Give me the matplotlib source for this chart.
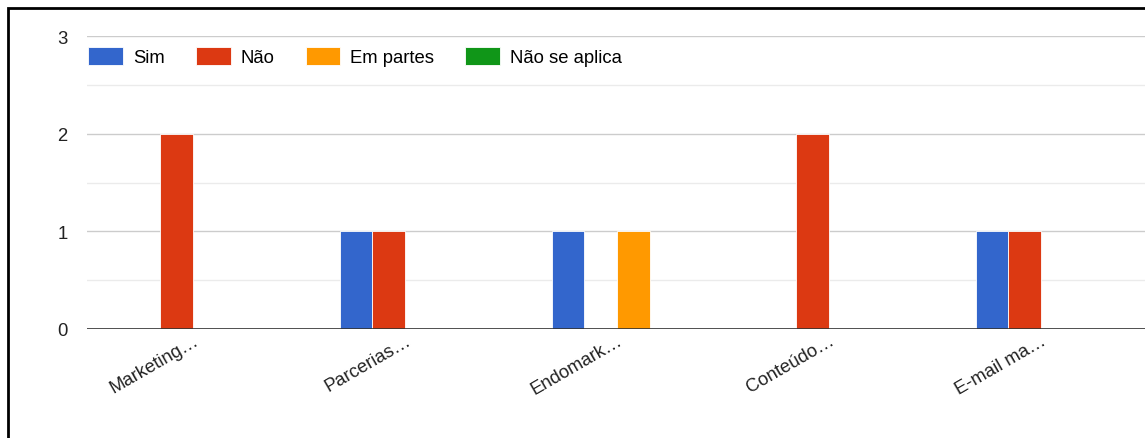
import matplotlib.pyplot as plt
from matplotlib.patches import Rectangle
import numpy as np

plt.rcParams['font.family'] = ['Liberation Sans', 'DejaVu Sans']

categories = ['Marketing…', 'Parcerias…', 'Endomark…', 'Conteúdo…', 'E-mail ma…']
series = ['Sim', 'Não', 'Em partes', 'Não se aplica']
colors = ['#3366cc', '#dc3912', '#ff9900', '#109618']
values = {
    'Sim':           [0, 1, 1, 0, 1],
    'Não':           [2, 1, 0, 2, 1],
    'Em partes':     [0, 0, 1, 0, 0],
    'Não se aplica': [0, 0, 0, 0, 0],
}

W, H = 1145, 439
fs = 13.3
fig = plt.figure(figsize=(W / 100, H / 100), dpi=100)
ax = fig.add_axes([87 / W, 109 / H, 1060 / W, 293 / H])

x = np.arange(len(categories))
bw = 0.1535
for i, (name, col) in enumerate(zip(series, colors)):
    ax.bar(x + (i - 1.5) * bw, values[name], bw, color=col, label=name,
           edgecolor='white', linewidth=0.6, zorder=3)

ax.set_xlim(-0.5, len(categories) - 0.5)
ax.set_ylim(0, 3)
ax.set_yticks([0, 1, 2, 3])
ax.set_yticks([0.5, 1.5, 2.5], minor=True)
ax.grid(axis='y', which='major', color='#cccccc', linewidth=1, zorder=0)
ax.grid(axis='y', which='minor', color='#ebebeb', linewidth=1, zorder=0)
ax.axhline(0, color='#333333', linewidth=1.2, zorder=4)
for s in ax.spines.values():
    s.set_visible(False)
ax.tick_params(axis='both', which='both', length=0, labelsize=fs, colors='#222222')
ax.tick_params(axis='y', pad=14)
ax.set_xticks(x)
ax.set_xticklabels(categories, rotation=30, ha='right', rotation_mode='anchor')
ax.tick_params(axis='x', pad=2)

ax.legend(loc='upper left', bbox_to_anchor=(0.001, 0.963), ncol=4, frameon=False,
          fontsize=fs, handlelength=1.89, handleheight=1.15, handletextpad=0.54,
          columnspacing=1.68, borderaxespad=0, borderpad=0)

# outer frame, only the top and left edges fall inside the canvas
fig.patches.append(Rectangle((8 / W, -0.1), 1.2, (H - 9) / H + 0.1,
                             transform=fig.transFigure, fill=False,
                             edgecolor='black', linewidth=2))

fig.savefig('out.png', dpi=100)
